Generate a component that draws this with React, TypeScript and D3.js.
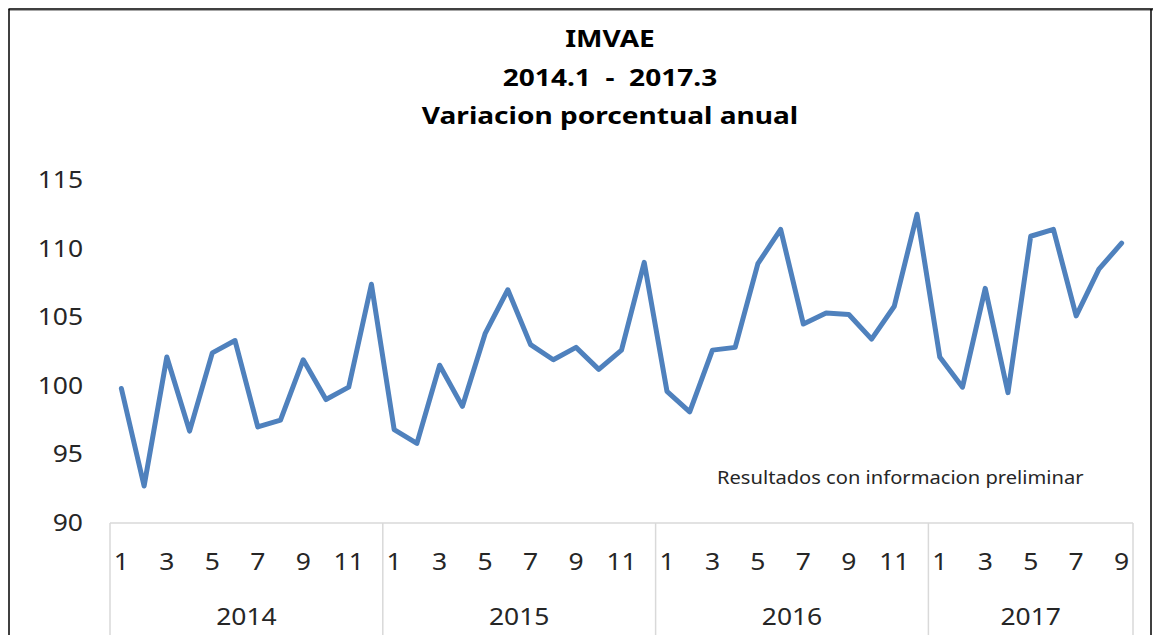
import React from "react";
import * as d3 from "d3";

// chart data
const years = ["2014", "2015", "2016", "2017"];
const monthsPerYear = [12, 12, 12, 9];
const values = [
  99.8, 92.7, 102.1, 96.7, 102.4, 103.3, 97.0, 97.5, 101.9, 99.0, 99.9, 107.4,
  96.8, 95.8, 101.5, 98.5, 103.8, 107.0, 103.0, 101.9, 102.8, 101.2, 102.6, 109.0,
  99.6, 98.1, 102.6, 102.8, 108.9, 111.4, 104.5, 105.3, 105.2, 103.4, 105.8, 112.5,
  102.1, 99.9, 107.1, 99.5, 110.9, 111.4, 105.1, 108.5, 110.4,
];
const yTicks = [90, 95, 100, 105, 110, 115];
const titleLines = ["IMVAE", "2014.1  -  2017.3", "Variacion porcentual anual"];
const note = "Resultados con informacion preliminar";

const W = 1153, H = 635;
const left = 110, right = 1133, top = 180, bottom = 523;
const font = "'Noto Sans', 'Open Sans', sans-serif";
const textCol = "#262626";
const axisCol = "#d9d9d9";

// text stretched a little sideways, the reference glyphs are wider
function Txt(props: { x: number; y: number; sx: number; size: number; anchor?: string; bold?: boolean; children: any }) {
  const { x, y, sx, size, anchor = "middle", bold, children } = props;
  return (
    <text transform={`translate(${x},${y}) scale(${sx},1)`} textAnchor={anchor} fontFamily={font}
      fontSize={size} fontWeight={bold ? "bold" : "normal"} fill={bold ? "#000" : textCol}
      style={{ whiteSpace: "pre" }}>{children}</text>
  );
}

export default function App() {
  // flatten categories into {year, month}
  const cats: { year: string; month: number }[] = [];
  years.forEach((yr, i) => {
    for (let m = 1; m <= monthsPerYear[i]; m++) cats.push({ year: yr, month: m });
  });

  const x = d3.scaleBand<number>().domain(d3.range(cats.length)).range([left, right]).padding(0);
  const y = d3.scaleLinear().domain([90, 115]).range([bottom, top]);

  const line = d3.line<number>()
    .x((_, i) => x(i)! + x.bandwidth() / 2)
    .y((d) => y(d));

  // year group boundaries
  const bounds: number[] = [left];
  let acc = 0;
  monthsPerYear.forEach((n) => {
    acc += n;
    bounds.push(acc < cats.length ? x(acc)! : right);
  });

  return (
    <svg width={W} height={H} style={{ position: "absolute", left: 0, top: 0, background: "#fff" }}>
      <rect x={0} y={0} width={W} height={H} fill="#fff" />
      {/* frame */}
      <line x1={9} y1={10.5} x2={W} y2={10.5} stroke="#a6a6a6" strokeWidth={1} />
      <line x1={8.5} y1={9} x2={W} y2={9} stroke="#000" strokeWidth={1.5} />
      <line x1={9} y1={9} x2={9} y2={H} stroke="#000" strokeWidth={1.5} />
      <line x1={1151} y1={9} x2={1151} y2={H} stroke="#000" strokeWidth={1.5} />

      {/* title */}
      {titleLines.map((t, i) => (
        <Txt key={i} x={610} y={47 + i * 38.5} sx={1.17} size={24} bold>{t}</Txt>
      ))}

      {/* y tick labels */}
      {yTicks.map((t) => (
        <Txt key={t} x={83} y={y(t) + 8} sx={1.15} size={23} anchor="end">{t}</Txt>
      ))}

      {/* category axis */}
      <line x1={left} y1={bottom} x2={right} y2={bottom} stroke={axisCol} strokeWidth={1.5} />
      {bounds.map((b, i) => (
        <line key={i} x1={b} y1={bottom} x2={b} y2={H} stroke={axisCol} strokeWidth={1.5} />
      ))}
      {cats.map((c, i) =>
        c.month % 2 === 1 ? (
          <Txt key={i} x={x(i)! + x.bandwidth() / 2} y={570} sx={1.15} size={23}>{c.month}</Txt>
        ) : null
      )}
      {years.map((yr, i) => (
        <Txt key={yr} x={(bounds[i] + bounds[i + 1]) / 2} y={625} sx={1.15} size={23}>{yr}</Txt>
      ))}

      {/* series */}
      <path d={line(values) ?? ""} fill="none" stroke="#4f81bd" strokeWidth={5}
        strokeLinejoin="round" strokeLinecap="round" />

      {/* note */}
      <Txt x={717} y={484} sx={1.06} size={19} anchor="start">{note}</Txt>
    </svg>
  );
}
